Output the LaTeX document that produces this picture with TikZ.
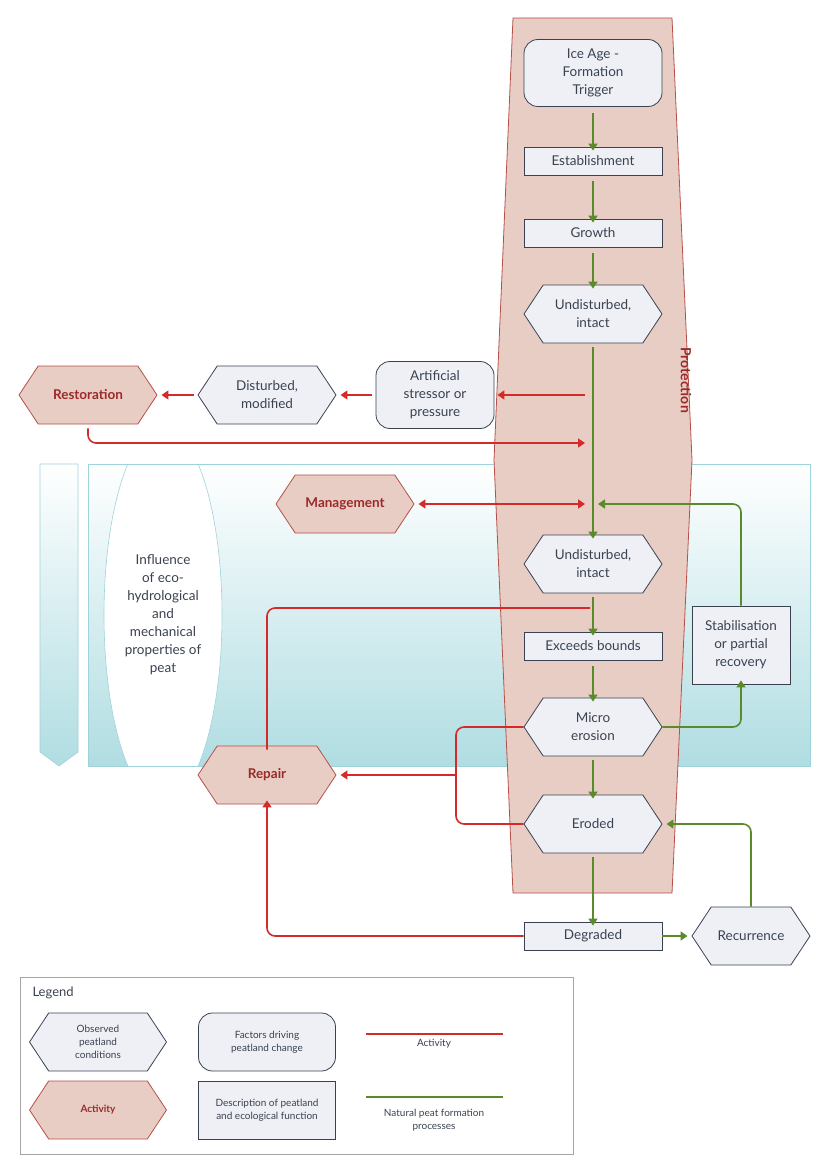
\documentclass[tikz,border=0pt]{standalone}
\usepackage{fontspec}
\setmainfont{Lato}
\usetikzlibrary{shapes.symbols,arrows.meta,shapes.geometric}
\definecolor{boxf}{HTML}{EEF0F6}
\definecolor{boxd}{HTML}{3A4250}
\definecolor{pinkf}{HTML}{E8CDC4}
\definecolor{pinkd}{HTML}{B5504A}
\definecolor{redl}{HTML}{D42A2A}
\definecolor{greenl}{HTML}{5A8A2A}
\definecolor{darkred}{HTML}{9B2A2A}
\definecolor{teal}{HTML}{B0DDE2}
\definecolor{teald}{HTML}{9FD3DA}
\begin{document}
\begin{tikzpicture}[x=1pt,y=-1pt,
  txt/.style={font=\fontsize{13.5}{18}\selectfont,text=boxd,align=center},
  box/.style={txt,draw=boxd,fill=boxf,line width=0.8pt,minimum width=138pt,minimum height=28pt,inner sep=0pt},
  rbox/.style={box,rounded corners=14pt},
  hexa/.style={txt,shape=signal,signal to=east and west,signal pointer angle=113,draw=boxd,fill=boxf,line width=0.8pt,minimum width=138pt,minimum height=58pt,inner sep=0pt},
  act/.style={hexa,draw=pinkd,fill=pinkf,text=darkred,font=\fontsize{13.5}{18}\selectfont\bfseries},
  ga/.style={draw=greenl,line width=1.6pt,-{Triangle[length=7pt,width=9pt]}},
  gl/.style={draw=greenl,line width=1.6pt},
  ra/.style={draw=redl,line width=1.6pt,-{Triangle[length=7pt,width=9pt]}},
  rl/.style={draw=redl,line width=1.6pt},
  small/.style={font=\fontsize{10}{13}\selectfont,text=boxd,align=center}]
\useasboundingbox (0,0) rectangle (830,1174);
% band
\shade[top color=white,bottom color=teal] (88,464) rectangle (810,766);
\shade[top color=white,bottom color=teal] (40,464) -- (78,464) -- (78,752) -- (59,766) -- (40,752) -- cycle;
\draw[teald,line width=0.6pt] (40,464) -- (78,464) -- (78,752) -- (59,766) -- (40,752) -- cycle;
\begin{scope}
\clip (88,464) rectangle (810,766);
\draw[teald,fill=white,line width=0.6pt] (163,615) ellipse [x radius=59pt,y radius=188pt];
\end{scope}
\draw[teald,line width=0.6pt] (88,464) rectangle (810,766);
\node[txt] (infl) at (163,615) {Influence\\of eco-\\hydrological\\and\\mechanical\\properties of\\peat};
% protection
\draw[pinkd,fill=pinkf,line width=0.8pt] (513,18) -- (672,18) -- (692,460) -- (672,893) -- (513,893) -- (494,460) -- cycle;
\node[rotate=-90,font=\fontsize{14}{16}\selectfont\bfseries,text=darkred] (prot) at (686,380) {Protection};
% nodes
\node[rbox,minimum height=67pt] (ice) at (593,73) {Ice Age -\\Formation\\Trigger};
\node[box] (est) at (593,161) {Establishment};
\node[box] (gro) at (593,233) {Growth};
\node[hexa] (und1) at (593,314) {Undisturbed,\\intact};
\node[rbox,minimum width=118pt,minimum height=67pt] (art) at (435,395) {Artificial\\stressor or\\pressure};
\node[hexa] (dist) at (267,395) {Disturbed,\\modified};
\node[act] (rest) at (88,395) {Restoration};
\node[act] (mgmt) at (345,504) {Management};
\node[hexa] (und2) at (593,564) {Undisturbed,\\intact};
\node[box] (exc) at (593,646) {Exceeds bounds};
\node[box,minimum width=98pt,minimum height=78pt] (stab) at (741,645) {Stabilisation\\or partial\\recovery};
\node[hexa] (micro) at (593,727) {Micro\\erosion};
\node[act] (rep) at (267,775) {Repair};
\node[hexa] (ero) at (593,824) {Eroded};
\node[box] (deg) at (593,936) {Degraded};
\node[hexa,minimum width=118pt] (rec) at (751,936) {Recurrence};
\coordinate (j1) at (585,395);
\coordinate (j2) at (585,443);
\coordinate (j3) at (585,504);
\coordinate (j4) at (598,504);
\coordinate (j5) at (590,608);
% green
\draw[ga] (ice.south) ++(0,6) -- ([yshift=-4pt]est.north);
\draw[ga] (est.south) ++(0,6) -- ([yshift=-4pt]gro.north);
\draw[ga] (gro.south) ++(0,6) -- ([yshift=-4pt]und1.north);
\draw[ga] (und1.south) ++(0,4) -- ([yshift=-4pt]und2.north);
\draw[ga] (und2.south) ++(0,4) -- ([yshift=-4pt]exc.north);
\draw[ga] (exc.south) ++(0,6) -- ([yshift=-4pt]micro.north);
\draw[ga] (micro.south) ++(0,4) -- ([yshift=-4pt]ero.north);
\draw[ga] (ero.south) ++(0,4) -- ([yshift=-4pt]deg.north);
\draw[ga] (deg.east) -- ([xshift=-4pt]rec.west);
\draw[ga,rounded corners=8pt] (micro.east) -- (741,727) -- ([yshift=4pt]stab.south);
\draw[ga,rounded corners=8pt] (stab.north) -- (741,504) -- (j4);
\draw[ga,rounded corners=8pt] (rec.north) -- (751,824) -- ([xshift=4pt]ero.east);
% red
\draw[ra] (j1) -- ([xshift=3pt]art.east);
\draw[ra] (art.west) ++(-4,0) -- ([xshift=4pt]dist.east);
\draw[ra] (dist.west) ++(-4,0) -- ([xshift=4pt]rest.east);
\draw[ra,rounded corners=8pt] (rest.south) ++(0,4) -- (88,443) -- (j2);
\draw[rl,{Triangle[length=7pt,width=9pt]}-{Triangle[length=7pt,width=9pt]}] ([xshift=4pt]mgmt.east) -- (j3);
\draw[rl,rounded corners=8pt] (j5) -- (267,608) -- ([yshift=-4pt]rep.north);
\draw[rl,rounded corners=8pt] (micro.west) -- (456,727) -- (456,824) -- (ero.west);
\draw[ra] (456,775) -- ([xshift=4pt]rep.east);
\draw[ra,rounded corners=8pt] (deg.west) -- (267,936) -- ([yshift=4pt]rep.south);
% legend
\draw[gray!70,line width=0.8pt] (20,977) rectangle (573,1154);
\node[anchor=west,font=\fontsize{13}{16}\selectfont,text=boxd] (leg) at (29,993) {Legend};
\node[hexa,minimum width=137pt,small] (l1) at (98,1042) {Observed\\peatland\\conditions};
\node[rbox,minimum width=137pt,minimum height=58pt,small] (l2) at (267,1042) {Factors driving\\peatland change};
\node[act,minimum width=137pt,font=\fontsize{10}{13}\selectfont\bfseries] (l3) at (98,1110) {Activity};
\node[box,minimum width=137pt,minimum height=58pt,small] (l4) at (267,1110) {Description of peatland\\and ecological function};
\coordinate (a1) at (366,1034); \coordinate (a2) at (503,1034);
\coordinate (b1) at (366,1097); \coordinate (b2) at (503,1097);
\draw[rl] (a1) -- (a2);
\draw[gl] (b1) -- (b2);
\node[small] (la) at (434,1044) {Activity};
\node[small] (lb) at (434,1120) {Natural peat formation\\processes};
\end{tikzpicture}
\end{document}
